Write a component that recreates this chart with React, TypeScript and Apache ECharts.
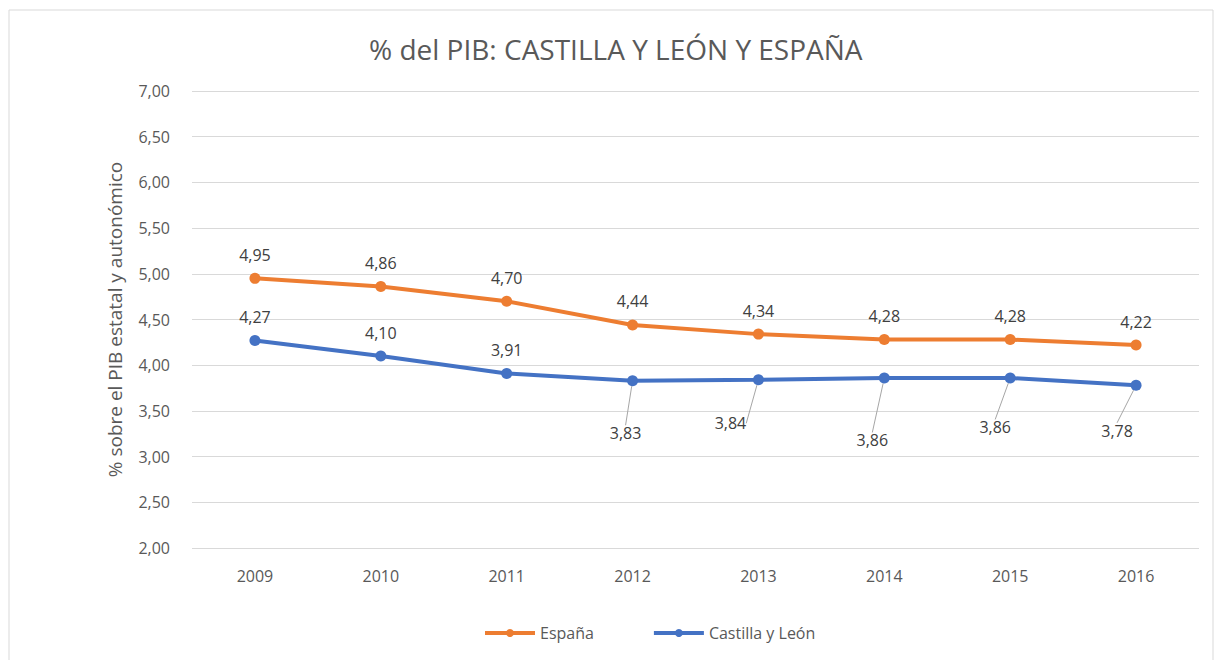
import React, { useEffect, useRef } from "react";
import * as echarts from "echarts";

const years = ["2009", "2010", "2011", "2012", "2013", "2014", "2015", "2016"];
const espana = [4.95, 4.86, 4.7, 4.44, 4.34, 4.28, 4.28, 4.22];
const castilla = [4.27, 4.1, 3.91, 3.83, 3.84, 3.86, 3.86, 3.78];
const yTicks = { min: 2, max: 7, interval: 0.5 };

// label offsets (pixels) for Castilla y León labels placed below with leader lines
const castillaBelow = [false, false, false, true, true, true, true, true];
const castillaShift: [number, number][] = [
  [0, 0], [0, 0], [0, 0], [-7, 34], [-28, 25], [-12, 44], [-15, 31], [-19, 27],
];

const FONT = "'Open Sans', 'Noto Sans', sans-serif";
const fmt = (v: number) => v.toFixed(2).replace(".", ",");

export default function App() {
  const ref = useRef<HTMLDivElement>(null);
  useEffect(() => {
    if (!ref.current) return;
    const chart = echarts.init(ref.current, null, { renderer: "svg" });
    chart.setOption({
      animation: false,
      backgroundColor: "#ffffff",
      title: {
        text: "% del PIB: CASTILLA Y LEÓN Y ESPAÑA",
        left: 364,
        top: 30,
        textStyle: { fontFamily: FONT, fontSize: 28, fontWeight: "normal", color: "#595959" },
      },
      graphic: [
        {
          type: "rect",
          shape: { x: 9, y: 10, width: 1204, height: 670 },
          style: { fill: "none", stroke: "#d9d9d9", lineWidth: 1 },
          silent: true,
        },
      ],
      legend: {
        bottom: 14,
        left: 478,
        itemWidth: 50,
        itemHeight: 10,
        itemGap: 58,
        lineStyle: { width: 4 },
        textStyle: { fontFamily: FONT, fontSize: 16, color: "#595959" },
        data: ["España", "Castilla y León"],
      },
      grid: { left: 192, right: 20, top: 91, bottom: 112 },
      xAxis: {
        type: "category",
        data: years,
        boundaryGap: true,
        axisLine: { show: false },
        axisTick: { show: false },
        axisLabel: { fontFamily: FONT, fontSize: 16, color: "#595959", margin: 20 },
      },
      yAxis: {
        type: "value",
        min: yTicks.min,
        max: yTicks.max,
        interval: yTicks.interval,
        name: "% sobre el PIB estatal y autonómico",
        nameLocation: "middle",
        nameGap: 68,
        nameTextStyle: { fontFamily: FONT, fontSize: 19, color: "#595959" },
        axisLine: { show: false },
        axisTick: { show: false },
        axisLabel: {
          fontFamily: FONT,
          fontSize: 16,
          color: "#595959",
          margin: 22,
          formatter: (v: number) => fmt(v),
        },
        splitLine: { lineStyle: { color: "#d9d9d9", width: 1 } },
      },
      series: [
        {
          name: "España",
          type: "line",
          data: espana,
          symbol: "circle",
          symbolSize: 11,
          lineStyle: { width: 4, color: "#ED7D31" },
          itemStyle: { color: "#ED7D31" },
          label: {
            show: true,
            position: "top",
            distance: 10,
            fontFamily: FONT,
            fontSize: 16,
            color: "#404040",
            formatter: (p: any) => fmt(p.value),
          },
        },
        {
          name: "Castilla y León",
          type: "line",
          data: castilla.map((v, i) => ({
            value: v,
            label: { position: castillaBelow[i] ? "bottom" : "top", distance: castillaBelow[i] ? 5 : 10 },
            labelLine: { show: castillaBelow[i] },
          })),
          symbol: "circle",
          symbolSize: 11,
          lineStyle: { width: 4, color: "#4472C4" },
          itemStyle: { color: "#4472C4" },
          label: {
            show: true,
            fontFamily: FONT,
            fontSize: 16,
            color: "#404040",
            formatter: (p: any) => fmt(p.value),
          },
          labelLine: { show: true, lineStyle: { color: "#a6a6a6", width: 1 } },
          labelLayout: (p: any) => ({
            dx: castillaShift[p.dataIndex][0],
            dy: castillaShift[p.dataIndex][1],
          }),
        },
      ],
    });
    return () => chart.dispose();
  }, []);
  return (
    <div
      ref={ref}
      style={{ position: "fixed", left: 0, top: 0, width: 1219, height: 660 }}
    />
  );
}
